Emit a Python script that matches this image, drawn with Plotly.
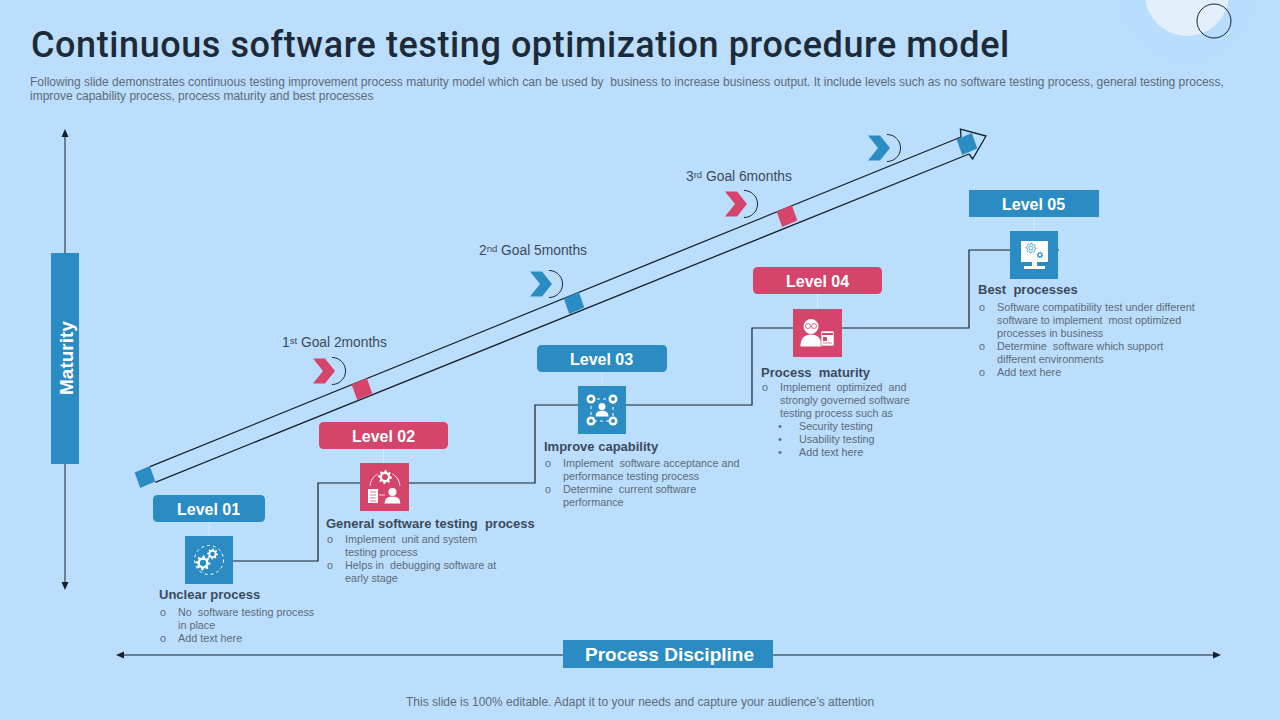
import math
import plotly.graph_objects as go

BG = "#BBDEFC"
BLUE = "#2B8CC4"
RED = "#D5446A"
DARK = "#15202C"
HEAD = "#3B4A5C"
BODY = "#5C6B7B"
WHITE = "#FFFFFF"

title = "Continuous software testing optimization procedure model"
subtitle = [
    "Following slide demonstrates continuous testing improvement process maturity model which can be used by  business to increase business output. It include levels such as no software testing process, general testing process,",
    "improve capability process, process maturity and best processes",
]
footer = "This slide is 100% editable. Adapt it to your needs and capture your audience’s attention"

levels = ["Level 01", "Level 02", "Level 03", "Level 04", "Level 05"]
level_colors = [BLUE, RED, BLUE, RED, BLUE]
headings = ["Unclear process", "General software testing  process", "Improve capability",
            "Process  maturity", "Best  processes"]
bullets = [
    [("o", "No  software testing process"), ("", "in place"), ("o", "Add text here")],
    [("o", "Implement  unit and system"), ("", "testing process"),
     ("o", "Helps in  debugging software at"), ("", "early stage")],
    [("o", "Implement  software acceptance and"), ("", "performance testing process"),
     ("o", "Determine  current software"), ("", "performance")],
    [("o", "Implement  optimized  and"), ("", "strongly governed software"), ("", "testing process such as"),
     ("•", "Security testing"), ("•", "Usability testing"), ("•", "Add text here")],
    [("o", "Software compatibility test under different"), ("", "software to implement  most optimized"),
     ("", "processes in business"), ("o", "Determine  software which support"),
     ("", "different environments"), ("o", "Add text here")],
]
goal_nums = ["1", "2", "3"]
goal_sups = ["st", "nd", "rd"]
goal_names = [" Goal 2months", " Goal 5months", " Goal 6months"]

# layout of the slide in pixels
level_boxes = [(153, 495, 265, 522), (319, 422, 448, 449), (537, 345, 667, 372),
               (753, 267, 882, 294), (969, 190, 1099, 217)]
icon_boxes = [(185, 536, 233, 584), (360, 463, 409, 511), (578, 386, 626, 434),
              (793, 309, 842, 357), (1010, 231, 1058, 279)]
heading_pos = [(158, 594), (325, 523), (543, 446), (760, 372), (977, 289)]
bullet_pos = [(163, 177, 612), (330, 344, 539), (548, 562, 463), (765, 779, 387), (982, 996, 307)]
goal_pos = [(334, 342), (533, 250), (739, 176)]
chevron_pos = [(313, 371, RED), (530, 284, BLUE), (725, 204, RED), (868, 148, BLUE)]
band_marks = [(145, 477, BLUE), (362, 389, RED), (574, 303, BLUE), (787, 216, RED), (967, 144, BLUE)]
step_x = [233, 318, 318, 535, 535, 752, 752, 969, 969, 1059]
step_y = [561, 561, 483, 483, 405, 405, 328, 328, 250, 250]

shapes = []
annotations = []


def poly(pts, fill=None, line=None, width=1):
    d = "M " + " L ".join(f"{x:.1f},{y:.1f}" for x, y in pts) + " Z"
    shapes.append(dict(type="path", path=d, fillcolor=fill or "rgba(0,0,0,0)",
                       line=dict(color=line or "rgba(0,0,0,0)", width=width if line else 0)))


def open_line(pts, color, width=1, dash="solid"):
    d = "M " + " L ".join(f"{x:.1f},{y:.1f}" for x, y in pts)
    shapes.append(dict(type="path", path=d, line=dict(color=color, width=width, dash=dash)))


def rect(x0, y0, x1, y1, fill, line=None, width=1):
    shapes.append(dict(type="rect", x0=x0, y0=y0, x1=x1, y1=y1, fillcolor=fill,
                       line=dict(color=line or "rgba(0,0,0,0)", width=width if line else 0)))


def round_rect(x0, y0, x1, y1, r, fill):
    d = (f"M {x0+r},{y0} L {x1-r},{y0} Q {x1},{y0} {x1},{y0+r} L {x1},{y1-r} Q {x1},{y1} {x1-r},{y1} "
         f"L {x0+r},{y1} Q {x0},{y1} {x0},{y1-r} L {x0},{y0+r} Q {x0},{y0} {x0+r},{y0} Z")
    shapes.append(dict(type="path", path=d, fillcolor=fill, line=dict(width=0)))


def circle(cx, cy, r, fill=None, line=None, width=1, dash="solid"):
    shapes.append(dict(type="circle", x0=cx - r, y0=cy - r, x1=cx + r, y1=cy + r,
                       fillcolor=fill or "rgba(0,0,0,0)",
                       line=dict(color=line or "rgba(0,0,0,0)", width=width if line else 0, dash=dash)))


def arc(cx, cy, r, a0, a1, color, width=1):
    pts = []
    for i in range(25):
        a = math.radians(a0 + (a1 - a0) * i / 24)
        pts.append((cx + r * math.cos(a), cy + r * math.sin(a)))
    open_line(pts, color, width)


def gear(cx, cy, r, fill=WHITE, hole=None, teeth=8):
    pts = []
    for i in range(teeth * 4):
        a = 2 * math.pi * i / (teeth * 4)
        rr = r if i % 4 in (0, 1) else r * 0.72
        pts.append((cx + rr * math.cos(a), cy + rr * math.sin(a)))
    poly(pts, fill)
    if hole:
        circle(cx, cy, r * 0.42, hole)


def person(cx, top, w, h, r, fill=WHITE):
    circle(cx, top + r, r, fill)
    y0 = top + 2 * r + 0.5
    x0, x1 = cx - w / 2, cx + w / 2
    d = (f"M {x0},{y0+h} Q {x0},{y0} {cx},{y0} Q {x1},{y0} {x1},{y0+h} Z")
    shapes.append(dict(type="path", path=d, fillcolor=fill, line=dict(width=0)))


def text(x, y, s, size, color, anchor="left", bold=False, angle=0, family="Liberation Sans", weight=None):
    annotations.append(dict(x=x, y=y, text=s, showarrow=False, xanchor=anchor, yanchor="middle",
                            textangle=angle, borderpad=0,
                            font=dict(family=family, size=size, color=color,
                                      weight=weight or ("bold" if bold else "normal"))))


# decoration in the top right corner
circle(1187, -6, 68, "#B9DDFC")
circle(1187, -6, 42, "#E1F0FB")
circle(1214, 21, 17, None, DARK, 1)

# header and footer
# title is spaced out by the css below, which grows it around its middle
text(46, 45, title, 36, "#1E2A38", family="Roboto", weight=500)
text(29, 82, subtitle[0], 12, BODY)
text(29, 96, subtitle[1], 12, BODY)
text(640, 702, footer, 12, BODY, anchor="center")

# axes of the model
open_line([(65, 134), (65, 586)], DARK)
poly([(65, 129), (61.5, 137), (68.5, 137)], DARK)
poly([(65, 590), (61.5, 582), (68.5, 582)], DARK)
rect(51, 253, 79, 464, BLUE)
text(66, 358, "Maturity", 19, WHITE, anchor="center", bold=True, angle=-90)

open_line([(120, 655), (1218, 655)], DARK)
poly([(116, 655), (124, 651.5), (124, 658.5)], DARK)
poly([(1221, 655), (1213, 651.5), (1213, 658.5)], DARK)
rect(563, 640, 773, 668, BLUE)
text(669.5, 654, "Process Discipline", 19, WHITE, anchor="center", bold=True)

# long arrow
open_line([(150, 466.7), (961, 137)], DARK, 1.3)
open_line([(155.3, 482.3), (969, 154)], DARK, 1.3)
open_line([(961, 137), (960.4, 129), (986, 136), (972.6, 159), (969, 154)], DARK, 1.3)

for cx, cy, color in band_marks:
    ux, uy, vx, vy = 8.2 * 0.92, -8.2 * 0.39, 8.2 * 0.34, 8.2 * 0.94
    poly([(cx - ux - vx, cy - uy - vy), (cx + ux - vx, cy + uy - vy),
          (cx + ux + vx, cy + uy + vy), (cx - ux + vx, cy - uy + vy)], color)

# chevrons next to the goals
for x, y, color in chevron_pos:
    poly([(x, y - 12.5), (x + 12, y - 12.5), (x + 22, y), (x + 12, y + 12.5), (x, y + 12.5), (x + 10, y)], color)
    arc(x + 19, y, 13.5, -90, 90, DARK, 1)

for (x, y), num, sup, name in zip(goal_pos, goal_nums, goal_sups, goal_names):
    s = f'{num}<span style="font-size:9.5px;baseline-shift:35%">{sup}</span>{name}'
    text(x, y, s, 13.8, HEAD, anchor="center")

# levels
for box, icon, color, label in zip(level_boxes, icon_boxes, level_colors, levels):
    x0, y0, x1, y1 = box
    mid = (x0 + x1) / 2
    open_line([(mid, y1), (mid, icon[1])], "#D8ECFC", 1)
    if label == "Level 05":
        rect(x0, y0, x1, y1, color)
    else:
        round_rect(x0, y0, x1, y1, 5, color)
    text(mid - 0.5, (y0 + y1) / 2 + 0.5, label, 16, WHITE, anchor="center", bold=True)
    rect(icon[0], icon[1], icon[2], icon[3], color)

for (x, y), s in zip(heading_pos, headings):
    text(x, y, s, 13, HEAD, bold=True)

for (bx, tx, y0), rows in zip(bullet_pos, bullets):
    for i, (mark, s) in enumerate(rows):
        y = y0 + i * 12.9
        if mark == "o":
            text(bx, y, "o", 10.8, BODY, anchor="center")
            text(tx, y, s, 10.8, BODY)
        elif mark == "•":
            text(tx + 1, y, "•", 10.8, BODY, anchor="center")
            text(tx + 19, y, s, 10.8, BODY)
        else:
            text(tx, y, s, 10.8, BODY)

# icon 1: gears in a dotted ring
circle(209, 560, 14.5, None, WHITE, 1, "dot")
gear(203, 563, 7.5, WHITE, BLUE)
gear(212.5, 554, 5.5, WHITE, BLUE)

# icon 2: gear, clipboard and person
gear(385, 477, 7, WHITE, RED)
arc(385, 487, 15, 185, 240, WHITE, 1)
arc(385, 487, 15, 300, 355, WHITE, 1)
rect(368, 489, 378, 503, WHITE)
for y in (492, 495, 498, 501):
    open_line([(370, y), (376, y)], RED, 0.7)
open_line([(379, 495), (385, 495)], WHITE, 0.8)
person(392.5, 488, 16, 7, 4)

# icon 3: person in a dotted square with four badges
rect(591, 399, 613, 421, "rgba(0,0,0,0)", WHITE, 1)
shapes[-1]["line"]["dash"] = "dot"
person(602, 403, 13, 6, 3.5)
for x, y in [(591, 399), (613, 399), (591, 421), (613, 421)]:
    circle(x, y, 4.5, WHITE)
    circle(x, y, 2, BLUE)

# icon 4: person with glasses and a document
person(811, 319, 21, 12, 7.5)
circle(808, 326, 2.5, None, RED, 0.8)
circle(814, 326, 2.5, None, RED, 0.8)
rect(821, 331, 834, 346, WHITE, RED, 0.6)
rect(822, 333, 833, 335, RED)
rect(823, 337, 827, 341, RED)
open_line([(823, 343), (832, 343)], RED, 0.7)

# icon 5: monitor with gears
rect(1021, 241, 1048, 262, WHITE)
rect(1032, 262, 1037, 266, WHITE)
rect(1024, 266, 1045, 269, WHITE)
gear(1031, 248, 5, "rgba(0,0,0,0)", None)
shapes[-1]["line"] = dict(color=BLUE, width=0.7)
circle(1031, 248, 2, None, BLUE, 0.7)
gear(1040, 255, 3.3, BLUE, WHITE)

fig = go.Figure()
fig.add_trace(go.Scatter(x=step_x, y=step_y, mode="lines", line=dict(color=DARK, width=1.2), hoverinfo="skip"))
fig.update_layout(
    width=1280, height=720, margin=dict(l=0, r=0, t=0, b=0),
    paper_bgcolor=BG, plot_bgcolor=BG, showlegend=False,
    xaxis=dict(range=[0, 1280], visible=False, fixedrange=True),
    yaxis=dict(range=[720, 0], visible=False, fixedrange=True),
    shapes=shapes, annotations=annotations,
)
# drop the page margin and open up the title like the slide font
page_css = """
document.body.style.margin = '0';
var st = document.createElement('style');
st.textContent = 'text[data-unformatted^="Continuous"] {letter-spacing: 0.57px}';
document.head.appendChild(st);
"""
fig.write_html("out.html", config=dict(displayModeBar=False), post_script=page_css)
